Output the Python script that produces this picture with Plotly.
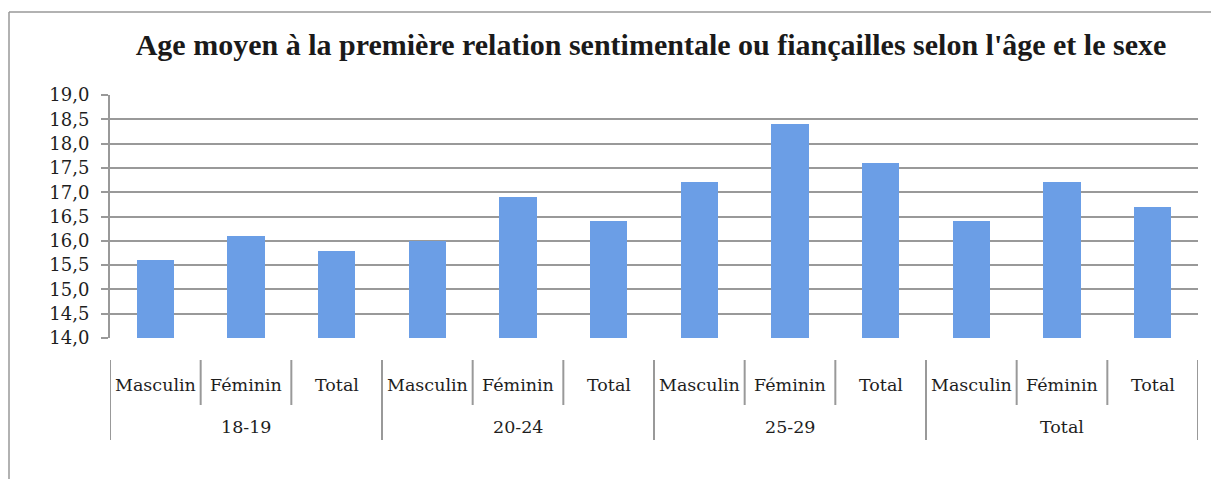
import plotly.graph_objects as go

groups = ["18-19", "20-24", "25-29", "Total"]
sexes = ["Masculin", "Féminin", "Total"]
values = [15.6, 16.1, 15.8, 16.0, 16.9, 16.4, 17.2, 18.4, 17.6, 16.4, 17.2, 16.7]
y_ticks = [14.0, 14.5, 15.0, 15.5, 16.0, 16.5, 17.0, 17.5, 18.0, 18.5, 19.0]
title = "Age moyen à la première relation sentimentale ou fiançailles selon l'âge et le sexe"

OFF = 8  # page body margin
W, H = 1219 - OFF, 479 - OFF
L, R, T, B = 110 - OFF, W - (1198 - OFF), 95 - OFF, H - (338 - OFF)
n = len(groups) * len(sexes)
xs = list(range(n))
sub_labels = [s for g in groups for s in sexes]

GRAY = "#999999"
TFONT = "Liberation Serif, Times New Roman, serif"
LFONT = "DejaVu Serif, serif"


def py(pix):
    # window pixel y -> paper y
    return 1 - (pix - OFF - T) / (H - T - B)


def px(pix):
    return (pix - OFF - L) / (W - L - R)


fig = go.Figure()
fig.add_trace(go.Bar(
    x=xs, y=values, width=0.41,
    marker=dict(color="#6b9ee6", line=dict(width=0)),
    hoverinfo="y",
))

shapes = []
for i in range(n + 1):
    tall = (i % len(sexes) == 0)
    shapes.append(dict(type="line", xref="x", yref="paper", x0=i - 0.5, x1=i - 0.5,
                       y0=py(360), y1=py(440 if tall else 405),
                       line=dict(color=GRAY, width=2)))
# outer frame (left & top)
shapes.append(dict(type="line", xref="paper", yref="paper",
                   x0=px(9), x1=px(9), y0=py(12), y1=py(490),
                   line=dict(color=GRAY, width=1.5)))
shapes.append(dict(type="line", xref="paper", yref="paper",
                   x0=px(9), x1=px(1230), y0=py(12), y1=py(12),
                   line=dict(color=GRAY, width=1.5)))

annotations = []
for i, lab in enumerate(sub_labels):
    annotations.append(dict(x=i, y=py(385), xref="x", yref="paper", text=lab,
                            showarrow=False, font=dict(family=LFONT, size=17.5, color="#1e1e1e"),
                            yanchor="middle"))
for gi, g in enumerate(groups):
    annotations.append(dict(x=gi * len(sexes) + 1, y=py(427), xref="x", yref="paper", text=g,
                            showarrow=False, font=dict(family=LFONT, size=17.5, color="#1e1e1e"),
                            yanchor="middle"))

fig.update_layout(
    width=W, height=H,
    margin=dict(l=L, r=R, t=T, b=B),
    paper_bgcolor="white", plot_bgcolor="white",
    separators=", ",
    showlegend=False,
    bargap=0,
    title=dict(text="<b>" + title + "</b>", x=(651 - OFF) / W, xanchor="center",
               y=1 - (44 - OFF) / H, yanchor="middle",
               font=dict(family=TFONT, size=30, color="#1a1a1a")),
    xaxis=dict(range=[-0.5, n - 0.5], showticklabels=False, showgrid=False,
               zeroline=False, showline=False, ticks=""),
    yaxis=dict(range=[14, 19], tickvals=y_ticks, tickformat=".1f",
               showgrid=True, gridcolor=GRAY, gridwidth=2,
               showline=True, linecolor=GRAY, linewidth=2,
               ticks="outside", ticklen=7, tickcolor=GRAY, tickwidth=2,
               ticklabelstandoff=8,
               zeroline=False,
               tickfont=dict(family=LFONT, size=18, color="#1e1e1e")),
    shapes=shapes,
    annotations=annotations,
)

fig.write_html("out.html")
